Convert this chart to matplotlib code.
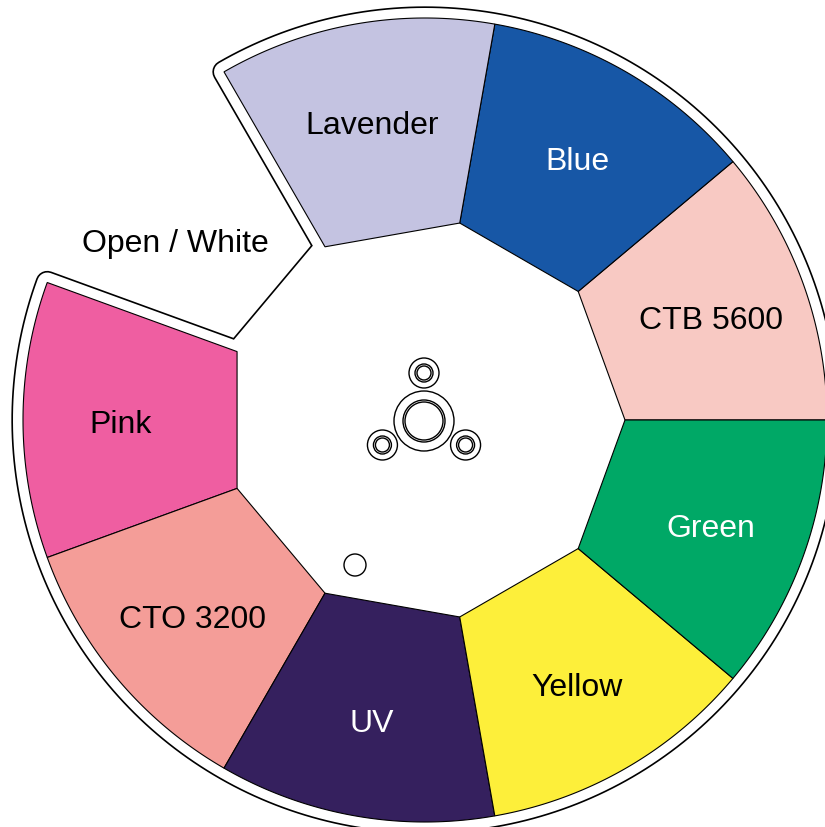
import matplotlib.pyplot as plt
import numpy as np
from matplotlib.patches import Polygon, Circle

# segments counter-clockwise from 3 o'clock, 40 degrees each
names = ["CTB 5600", "Blue", "Lavender", "Open / White", "Pink",
         "CTO 3200", "UV", "Yellow", "Green"]
colors = ["#f8c9c3", "#1757a6", "#c4c3e1", None, "#ef5ea1",
          "#f49d98", "#35205e", "#fdef3a", "#00a866"]
text_colors = ["black", "white", "black", "black", "black",
               "black", "white", "black", "white"]
open_idx = 3

cx, cy = 425, 421
r_in, r_out = 200, 402
step = 360 / len(names)


def pt(r, a):
    a = np.radians(a)
    return (cx + r * np.cos(a), cy - r * np.sin(a))


def sector(a0, a1):
    t = np.linspace(a1, a0, 80)
    return [pt(r_in, a0), pt(r_in, a1)] + [pt(r_out, x) for x in t]


fig = plt.figure(figsize=(8.25, 8.28), dpi=100)
ax = fig.add_axes([0, 0, 1, 1])
ax.set_xlim(0, 825)
ax.set_ylim(828, 0)
ax.set_aspect('equal')
ax.axis('off')

# outer outline: hub + all coloured sectors, stroked black then white
a0 = open_idx * step
a1 = a0 + step
t = np.linspace(a1, a0 + 360, 300)
shape = [pt(r_in, a0), pt(r_in, a1)] + [pt(r_out, x) for x in t]
ax.add_patch(Polygon(shape, closed=True, fc='none', ec='black', lw=16.8,
                     joinstyle='round', zorder=1))
ax.add_patch(Polygon(shape, closed=True, fc='white', ec='white', lw=14.4,
                     joinstyle='round', zorder=2))

for i, (name, col, tc) in enumerate(zip(names, colors, text_colors)):
    s0 = i * step
    s1 = s0 + step
    if col is not None:
        ax.add_patch(Polygon(sector(s0, s1), closed=True, fc=col,
                             ec='black', lw=0.8, zorder=3))
        x, y = pt(304, (s0 + s1) / 2)
    else:
        x, y = pt(308, s0 + 24)
    ax.text(x, y + 4, name, ha='center', va='center', fontsize=23, color=tc,
            family=['Liberation Sans', 'DejaVu Sans'], zorder=5)

# centre hub
hx, hy = 424, 422
for r in [30, 21, 19]:
    ax.add_patch(Circle((hx, hy), r, fc='none', ec='black', lw=1, zorder=4))
for a in [90, 210, 330]:
    px = hx + 48 * np.cos(np.radians(a))
    py = hy - 48 * np.sin(np.radians(a))
    for r in [15, 9, 7]:
        ax.add_patch(Circle((px, py), r, fc='none', ec='black', lw=1, zorder=4))
ax.add_patch(Circle((355, 566), 11, fc='white', ec='black', lw=1, zorder=4))

fig.savefig('out.png', dpi=100)
